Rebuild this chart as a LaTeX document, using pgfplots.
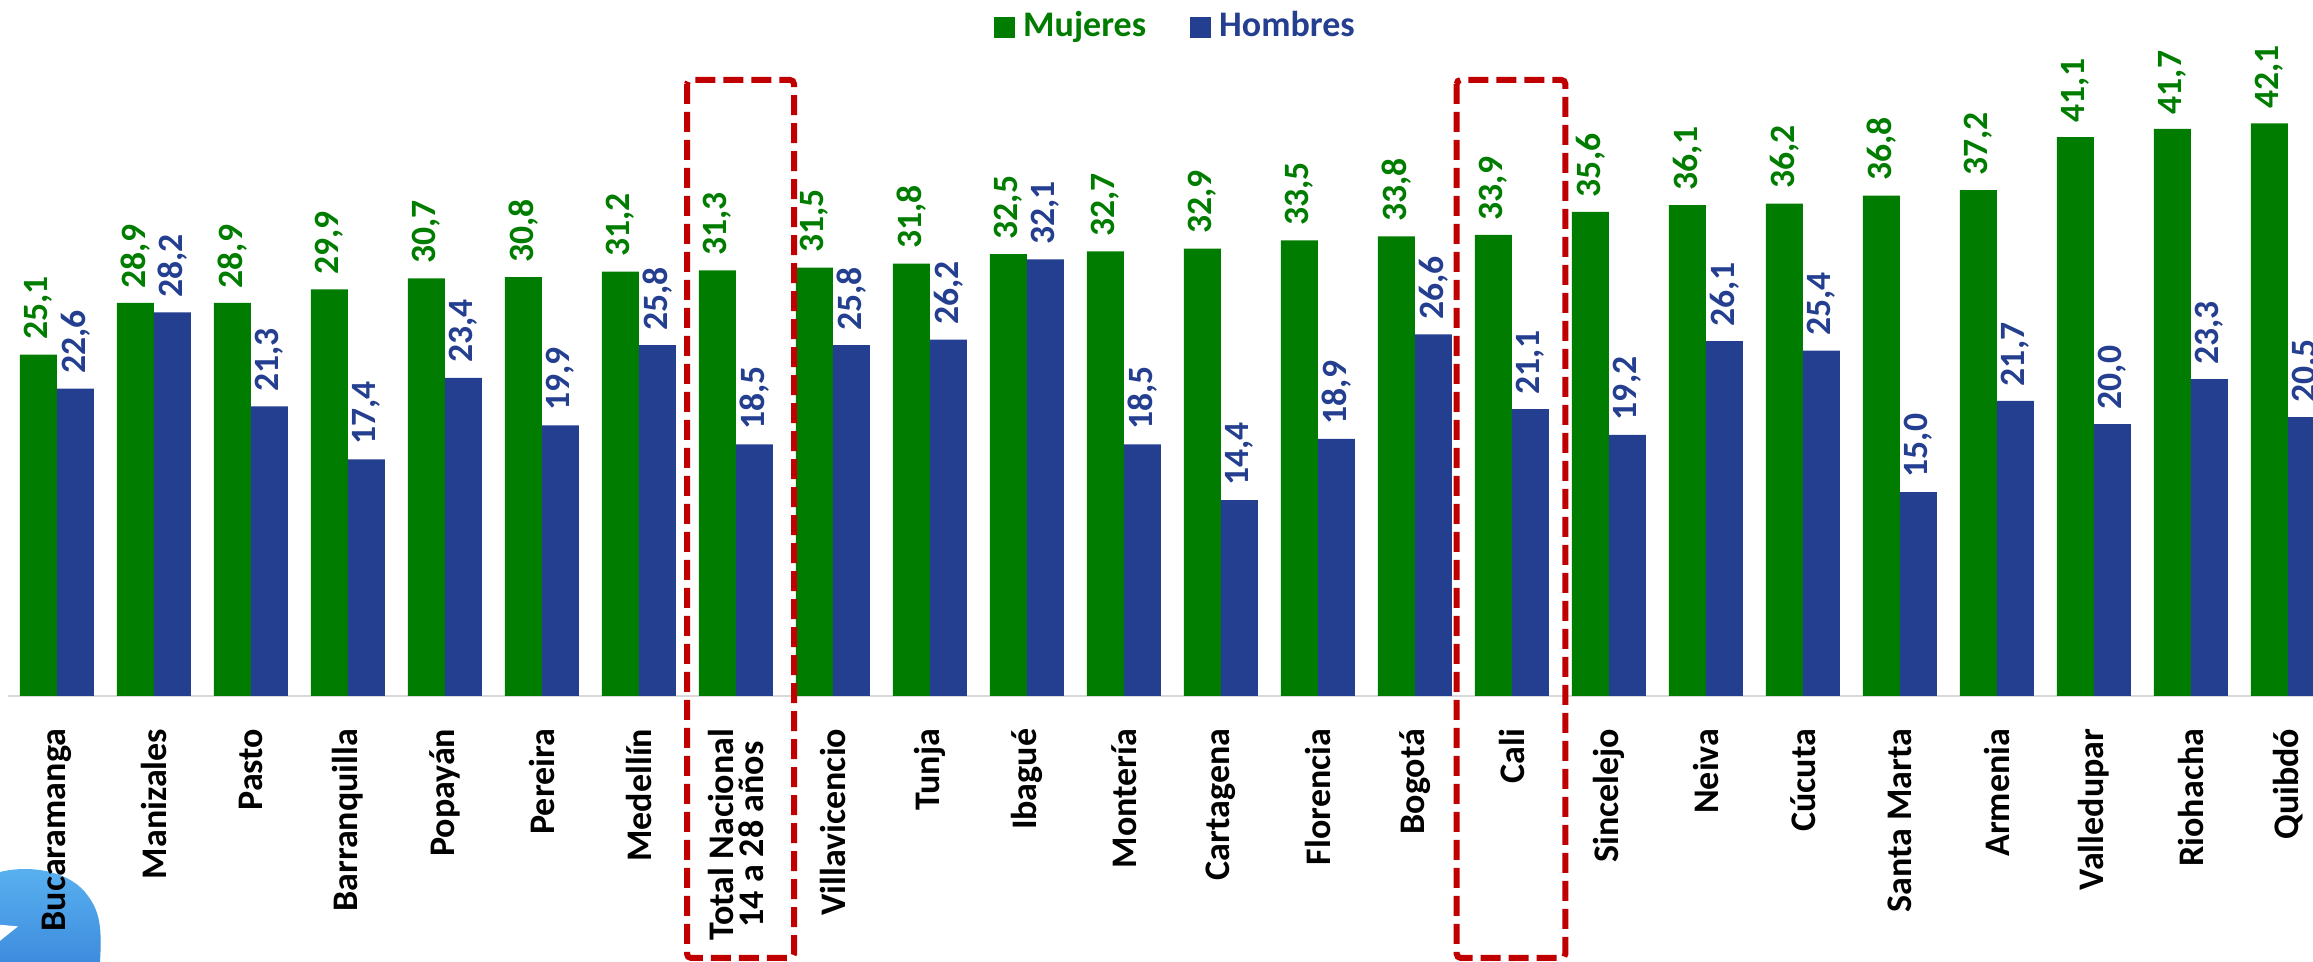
\documentclass[border=0pt]{standalone}
\usepackage{fontspec}
\setmainfont{Carlito}
\usepackage{pgfplots}
\pgfplotsset{compat=1.18}
\definecolor{verde}{RGB}{0,125,0}
\definecolor{azul}{RGB}{36,62,144}
\definecolor{rojo}{RGB}{192,0,0}
\definecolor{celeste}{RGB}{90,178,240}
\definecolor{celeste2}{RGB}{62,140,222}

\begin{document}
\begin{tikzpicture}
\begin{scope}
\clip (0,-66.5pt) rectangle (578.25pt,174pt);
% logo parcial abajo a la izquierda
\shade[top color=celeste, bottom color=celeste2]
    (0,-44pt) .. controls (8pt,-42pt) and (18pt,-44pt) .. (22pt,-50pt)
    .. controls (25pt,-54pt) and (25.5pt,-58pt) .. (25pt,-66.5pt) -- (0,-66.5pt) -- cycle;
\fill[white] (0,-57.2pt) -- (4.5pt,-57.6pt) -- (0,-61.2pt) -- cycle;
\begin{axis}[
    at={(0,0)}, anchor=south west,
    scale only axis, width=578.25pt, height=174pt,
    xmin=-0.5876, xmax=23.258, ymin=0, ymax=51.18,
    ybar=0pt, bar width=9.25pt,
    axis x line*=bottom, axis y line=none,
    x axis line style={draw=none},
    xtick={0,...,23}, major tick length=0pt,
    xticklabels={Bucaramanga, Manizales, Pasto, Barranquilla, Popayán, Pereira, Medellín,
        {Total Nacional\\14 a 28 años}, Villavicencio, Tunja, Ibagué, Montería, Cartagena,
        Florencia, Bogotá, Cali, Sincelejo, Neiva, Cúcuta, Santa Marta, Armenia,
        Valledupar, Riohacha, Quibdó},
    xticklabel style={rotate=90, anchor=east, align=center,
        font=\fontsize{9}{7.6}\selectfont\bfseries, inner xsep=8pt, inner ysep=0pt},
    nodes near coords,
    every node near coord/.append style={rotate=90, anchor=west, inner xsep=3.5pt,
        inner ysep=0pt, font=\fontsize{8.9}{9}\selectfont\bfseries},
    /pgf/number format/use comma, /pgf/number format/fixed,
    /pgf/number format/fixed zerofill, /pgf/number format/precision=1,
    /pgf/number format/assume math mode=true,
    clip=false,
    legend style={draw=none, fill=none, at={(0.5095,0.961)}, anchor=center,
        legend columns=2, font=\fontsize{9}{10}\selectfont\bfseries,
        /tikz/every even column/.append style={column sep=9pt}},
    legend image code/.code={\fill[#1] (0pt,-2.6pt) rectangle (5.25pt,2.6pt);},
]
% línea base
\draw[black!15, line width=0.7pt] (axis cs:-0.505,0) -- (axis cs:23.3,0);
\addplot[fill=verde, draw=none, nodes near coords style={text=verde}] coordinates {
    (0,25.1) (1,28.9) (2,28.9) (3,29.9) (4,30.7) (5,30.8) (6,31.2) (7,31.3)
    (8,31.5) (9,31.8) (10,32.5) (11,32.7) (12,32.9) (13,33.5) (14,33.8) (15,33.9)
    (16,35.6) (17,36.1) (18,36.2) (19,36.8) (20,37.2) (21,41.1) (22,41.7) (23,42.1)
};
\addlegendentry{\textcolor{verde}{Mujeres}}
\addplot[fill=azul, draw=none, nodes near coords style={text=azul}] coordinates {
    (0,22.6) (1,28.2) (2,21.3) (3,17.4) (4,23.4) (5,19.9) (6,25.8) (7,18.5)
    (8,25.8) (9,26.2) (10,32.1) (11,18.5) (12,14.4) (13,18.9) (14,26.6) (15,21.1)
    (16,19.2) (17,26.1) (18,25.4) (19,15.0) (20,21.7) (21,20.0) (22,23.3) (23,20.5)
};
\addlegendentry{\textcolor{azul}{Hombres}}
% recuadros de Total Nacional y Cali
\draw[rojo, line width=1.5pt, dash pattern=on 5pt off 2pt, rounded corners=1pt]
    (axis cs:6.495,45.3) rectangle (axis cs:7.598,-19.26);
\draw[rojo, line width=1.5pt, dash pattern=on 5pt off 2pt, rounded corners=1pt]
    (axis cs:14.43,45.3) rectangle (axis cs:15.55,-19.26);
\end{axis}
\end{scope}
\pgfresetboundingbox
\path[use as bounding box] (0,-66.5pt) rectangle (578.25pt,174pt);
\end{tikzpicture}
\end{document}
